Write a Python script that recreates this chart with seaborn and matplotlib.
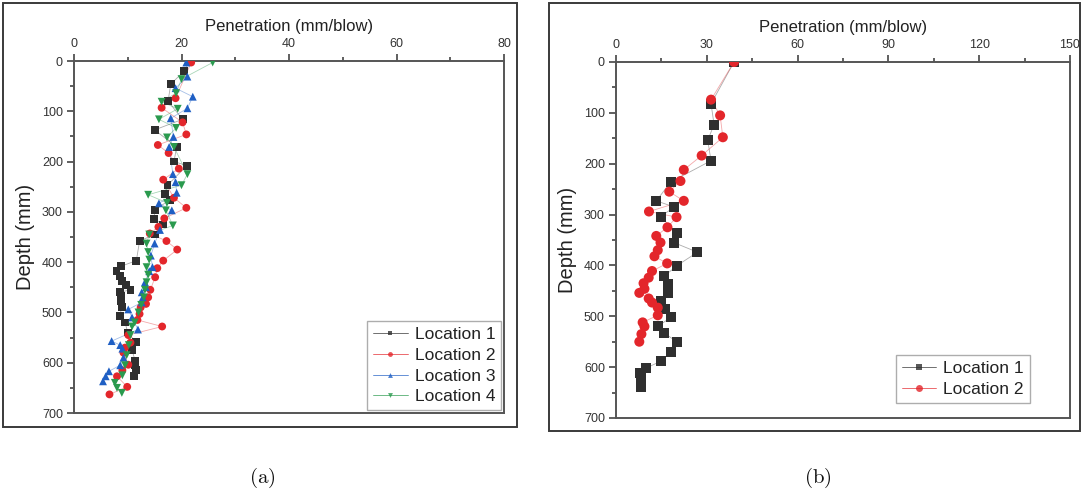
import matplotlib
matplotlib.use("Agg")
import matplotlib.pyplot as plt
import seaborn as sns
import pandas as pd
from matplotlib.lines import Line2D
from matplotlib.patches import Rectangle
from matplotlib.ticker import MultipleLocator

# ---------------- data: panel (a) ----------------
a_loc1_depth = [20, 46, 80, 116, 137, 171, 200, 208, 247, 264, 276, 297, 315, 325, 345, 358,
                397, 408, 418, 428, 437, 446, 455, 460, 468, 478, 490, 507, 520, 540, 559,
                575, 597, 605, 615, 627]
a_loc1_pen = [20.5, 18, 17.5, 20.2, 15, 19.1, 18.6, 21, 17.4, 16.9, 17.8, 15, 14.9, 16.6, 15, 12.2,
              11.6, 8.8, 7.9, 8.6, 9, 9.6, 10.5, 8.5, 8.7, 8.7, 8.9, 8.5, 9.5, 10, 11.5,
              10.8, 11.4, 11.4, 11.6, 11.2]

a_loc2_depth = [3, 74, 93, 122, 146, 167, 183, 214, 236, 272, 292, 313, 330, 343, 358, 375, 397,
                412, 430, 455, 470, 483, 490, 503, 515, 528, 545, 560, 570, 580, 604, 615, 627,
                648, 663]
a_loc2_pen = [21.8, 18.9, 16.3, 20.2, 20.9, 15.6, 17.6, 19.5, 16.6, 18.6, 20.9, 16.8, 15.7, 14.1,
              17.2, 19.2, 16.6, 15.5, 15.1, 14.2, 13.8, 13.4, 12.4, 12.2, 11.8, 16.4, 10.1, 10.5,
              9.5, 9.2, 10.1, 9.0, 8.0, 9.9, 6.6]

a_loc3_depth = [3, 31, 54, 71, 94, 114, 151, 171, 225, 241, 262, 283, 297, 336, 363, 387, 410,
                418, 440, 450, 460, 470, 480, 494, 510, 534, 557, 565, 572, 590, 605, 617, 627, 637]
a_loc3_pen = [20.9, 21.1, 18.9, 22.1, 21.1, 18, 18.5, 17.7, 18.4, 18.9, 19.1, 15.8, 18.2, 16, 15,
              14.3, 14.6, 14, 13.2, 13.4, 12.6, 12.8, 12.6, 10.1, 10.8, 11.9, 7, 8.6, 9, 9.2, 8.6,
              6.5, 5.9, 5.4]

a_loc4_depth = [3, 36, 64, 81, 95, 116, 133, 152, 171, 225, 247, 266, 282, 297, 327, 345, 363,
                380, 395, 410, 425, 440, 455, 470, 485, 500, 520, 528, 545, 565, 585, 605, 625,
                640, 650, 660]
a_loc4_pen = [25.8, 20, 19, 16.3, 19.3, 15.8, 19, 17.3, 18.6, 21.1, 20, 13.8, 17.3, 17.1, 18.4, 14,
              13.5, 13.8, 14, 13.5, 13.8, 13.5, 13.2, 13, 12.5, 12, 11.3, 10.8, 10.5, 10.2, 9.8,
              9.5, 9, 7.6, 8, 8.9]

# ---------------- data: panel (b) ----------------
b_loc1_depth = [0, 82, 123, 154, 194, 236, 273, 285, 304, 336, 355, 374, 401, 421, 436, 454, 470,
                485, 502, 520, 533, 550, 570, 588, 602, 612, 620, 630, 640]
b_loc1_pen = [39, 31.4, 32.4, 30.3, 31.4, 18.1, 13.3, 19.2, 14.8, 20, 19.1, 26.9, 20, 16, 17.1,
              17.1, 14.9, 16.3, 18.1, 13.8, 16, 20, 18.1, 14.9, 9.9, 8, 8.3, 8.3, 8.3]

b_loc2_depth = [0, 74, 105, 148, 184, 212, 234, 255, 273, 294, 305, 325, 342, 355, 370, 382, 396,
                411, 424, 435, 446, 454, 465, 473, 483, 498, 512, 520, 535, 550]
b_loc2_pen = [39, 31.4, 34.4, 35.3, 28.3, 22.4, 21.3, 17.6, 22.4, 10.9, 20, 17, 13.3, 14.7, 13.8,
              12.7, 16.9, 11.9, 10.8, 9.1, 9.4, 7.7, 10.8, 11.9, 13.8, 13.8, 8.8, 9.4, 8.4, 7.7]

labels_a = ["Location 1", "Location 2", "Location 3", "Location 4"]
labels_b = ["Location 1", "Location 2"]
x_label = "Penetration (mm/blow)"
y_label = "Depth (mm)"

colors = {"Location 1": "#2f2f2f", "Location 2": "#e3262b",
          "Location 3": "#1f5fc4", "Location 4": "#2a9a4e"}
markers = {"Location 1": "s", "Location 2": "o", "Location 3": "^", "Location 4": "v"}


def frame(depths, pens, labels):
    parts = []
    for d, p, lab in zip(depths, pens, labels):
        parts.append(pd.DataFrame({"Depth": d, "Penetration": p, "Location": lab}))
    return pd.concat(parts, ignore_index=True)


df_a = frame([a_loc1_depth, a_loc2_depth, a_loc3_depth, a_loc4_depth],
             [a_loc1_pen, a_loc2_pen, a_loc3_pen, a_loc4_pen], labels_a)
df_b = frame([b_loc1_depth, b_loc2_depth], [b_loc1_pen, b_loc2_pen], labels_b)

sns.set_theme(style="white")
plt.rcParams["font.family"] = ["Liberation Sans", "DejaVu Sans"]
plt.rcParams["mathtext.fontset"] = "cm"

W, H = 1083, 496
fig = plt.figure(figsize=(W / 100, H / 100), dpi=100)
fig.patch.set_facecolor("white")

ax_a = fig.add_axes([74 / W, 1 - 413 / H, 430 / W, 352 / H])
ax_b = fig.add_axes([616 / W, 1 - 418 / H, 454 / W, 356 / H])

# panel borders
for (x0, y0, x1, y1) in [(3, 3, 517, 427), (549, 3, 1080, 431)]:
    fig.add_artist(Rectangle((x0 / W, 1 - y1 / H), (x1 - x0) / W, (y1 - y0) / H,
                             transform=fig.transFigure, fill=False, lw=1.4, ec="#3a3a3a"))


def draw(ax, df, labels, msize):
    pal = {k: colors[k] for k in labels}
    mk = {k: markers[k] for k in labels}
    sns.lineplot(data=df, x="Penetration", y="Depth", hue="Location", hue_order=labels,
                 palette=pal, sort=False, estimator=None, legend=False, lw=0.6,
                 alpha=0.4, ax=ax)
    sns.scatterplot(data=df, x="Penetration", y="Depth", hue="Location", hue_order=labels,
                    style="Location", style_order=labels, markers=mk, palette=pal,
                    s=msize, linewidth=0, legend=False, ax=ax, zorder=3)


def style(ax, xmax, xstep):
    ax.set_xlim(0, xmax)
    ax.set_ylim(700, 0)
    ax.xaxis.set_ticks_position("top")
    ax.xaxis.set_label_position("top")
    ax.xaxis.set_major_locator(MultipleLocator(xstep))
    ax.xaxis.set_minor_locator(MultipleLocator(xstep / 2))
    ax.yaxis.set_major_locator(MultipleLocator(100))
    ax.yaxis.set_minor_locator(MultipleLocator(50))
    ax.tick_params(which="both", direction="out", top=True, bottom=False, left=True,
                   right=False, color="#444444", labelcolor="#333333")
    ax.tick_params(which="major", length=5, width=1.2, labelsize=9, pad=3)
    ax.tick_params(which="minor", length=3, width=1.2)
    for sp in ax.spines.values():
        sp.set_color("#555555")
        sp.set_linewidth(1.4)
    ax.set_xlabel(x_label, fontsize=12, color="#222222", labelpad=5)
    ax.set_ylabel(y_label, fontsize=14.5, color="#222222", labelpad=5)


def legend(ax, labels, msize, **kw):
    handles = [Line2D([0], [0], color=colors[k], lw=0.6, alpha=0.8, marker=markers[k],
                      markersize=msize, markerfacecolor=colors[k], markeredgewidth=0)
               for k in labels]
    leg = ax.legend(handles, labels, fontsize=12.5, frameon=True, fancybox=False,
                    edgecolor="#999999", handlelength=2.0, handletextpad=0.4,
                    labelspacing=0.32, borderpad=0.35, **kw)
    leg.get_frame().set_linewidth(1.0)
    for t in leg.get_texts():
        t.set_color("#222222")


draw(ax_a, df_a, labels_a, 32)
style(ax_a, 80, 20)
legend(ax_a, labels_a, 3.5, loc="lower right", borderaxespad=0.15)

draw(ax_b, df_b, labels_b, 52)
style(ax_b, 150, 30)
legend(ax_b, labels_b, 5, loc="lower right", bbox_to_anchor=(0.912, 0.042), borderaxespad=0)

fig.text(262 / W, 1 - 478 / H, r"$\mathrm{(a)}$", ha="center", va="center", fontsize=15,
         color="#111111")
fig.text(818 / W, 1 - 478 / H, r"$\mathrm{(b)}$", ha="center", va="center", fontsize=15,
         color="#111111")

fig.savefig("out.png", dpi=100, facecolor="white")
